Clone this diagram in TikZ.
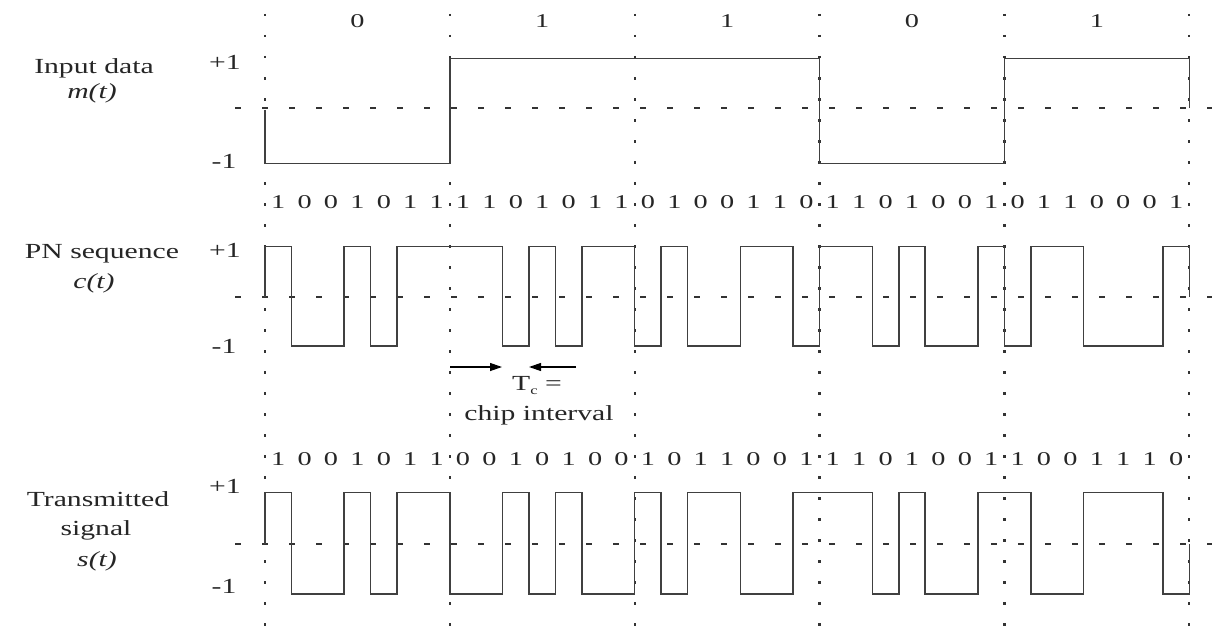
\documentclass[tikz,border=0pt]{standalone}
\usepackage{fontspec}
\setmainfont[FakeStretch=1.38]{Liberation Serif}
\newfontfamily\digitfont[FakeStretch=1.45]{Liberation Serif}
\usetikzlibrary{arrows.meta}
\begin{document}
\begin{tikzpicture}[x=1pt,y=-1pt,
  lbl/.style={text=black!85, font=\fontsize{21.5}{25}\selectfont, inner sep=0pt, anchor=base},
  chipdigit/.style={text=black!85, font=\digitfont\fontsize{19.5}{23}\selectfont, inner sep=0pt, anchor=base},
  sig/.style={draw=black!75, line width=1.5pt, line join=miter},
  gridline/.style={draw=black!80, line width=2.2pt, dash pattern=on 2.5pt off 18.5pt},
  zeroline/.style={draw=black!80, line width=1.4pt, dash pattern=on 6pt off 21pt},
  tcarrow/.style={draw=black, line width=1.2pt, -{Triangle[length=12pt,width=8pt]}}]
\useasboundingbox (0,0) rectangle (1212,626);
\fill[white] (0,0) rectangle (1212,626);
\def\xo{265}
\def\bw{184.86}
\def\cw{26.408}
% zero lines
\draw[zeroline] (235,108) -- (1212,108);
\draw[zeroline] (235,297) -- (1212,297);
\draw[zeroline] (235,544) -- (1212,544);
% bit boundaries
\foreach \k in {0,...,5}
  \draw[gridline] ({\xo+\k*\bw},14) -- ({\xo+\k*\bw},626);
% input data
\draw[sig] (\xo,110) \foreach \v [count=\i from 0, evaluate=\v as \yy using 163.3-105*\v] in {0,1,1,0,1}
  { -- ({\xo+\i*\bw},\yy) -- ({\xo+(\i+1)*\bw},\yy) } -- ({\xo+5*\bw},108);
% PN sequence
\draw[sig] (\xo,297) \foreach \v [count=\i from 0, evaluate=\v as \yy using 346-99.5*\v] in
  {1,0,0,1,0,1,1, 1,1,0,1,0,1,1, 0,1,0,0,1,1,0, 1,1,0,1,0,0,1, 0,1,1,0,0,0,1}
  { -- ({\xo+\i*\cw},\yy) -- ({\xo+(\i+1)*\cw},\yy) } -- ({\xo+35*\cw},297);
% transmitted
\draw[sig] (\xo,544) \foreach \v [count=\i from 0, evaluate=\v as \yy using 594-101.7*\v] in
  {1,0,0,1,0,1,1, 0,0,1,0,1,0,0, 1,0,1,1,0,0,1, 1,1,0,1,0,0,1, 1,0,0,1,1,1,0}
  { -- ({\xo+\i*\cw},\yy) -- ({\xo+(\i+1)*\cw},\yy) } -- ({\xo+35*\cw},544);
% bit labels
\foreach \v [count=\i from 0] in {0,1,1,0,1}
  \node[chipdigit] (bit\i) at ({\xo+(\i+0.5)*\bw},28) {\v};
% chip labels
\foreach \v [count=\i from 0] in {1,0,0,1,0,1,1, 1,1,0,1,0,1,1, 0,1,0,0,1,1,0, 1,1,0,1,0,0,1, 0,1,1,0,0,0,1}
  \node[chipdigit] (pn\i) at ({\xo+(\i+0.5)*\cw},208) {\v};
\foreach \v [count=\i from 0] in {1,0,0,1,0,1,1, 0,0,1,0,1,0,0, 1,0,1,1,0,0,1, 1,1,0,1,0,0,1, 1,0,0,1,1,1,0}
  \node[chipdigit] (tx\i) at ({\xo+(\i+0.5)*\cw},465) {\v};
% left labels
\node[lbl] (inlab) at (94,74) {Input data};
\node[lbl] (mlab) at (92,98) {\textit{m(t)}};
\node[lbl] (pnlab) at (102,258) {PN sequence};
\node[lbl] (clab) at (94,288) {\textit{c(t)}};
\node[lbl] (txlab) at (98,506) {Transmitted};
\node[lbl] (siglab) at (96,535) {signal};
\node[lbl] (slab) at (97,566) {\textit{s(t)}};
% level labels
\node[lbl] (p1) at (225,70) {+1};
\node[lbl] (m1) at (224,168) {-1};
\node[lbl] (p2) at (225,257) {+1};
\node[lbl] (m2) at (224,353) {-1};
\node[lbl] (p3) at (225,493) {+1};
\node[lbl] (m3) at (224,593) {-1};
% chip interval
\coordinate (a1s) at (450,367);
\coordinate (a1e) at (502,367);
\coordinate (a2s) at (576,367);
\coordinate (a2e) at (529,367);
\draw[tcarrow] (a1s) -- (a1e);
\draw[tcarrow] (a2s) -- (a2e);
\node[lbl] (tclab) at (537,390) {T\raisebox{-0.5ex}{\fontsize{12}{12}\selectfont c} =};
\node[lbl] (chiplab) at (539,420) {chip interval};
\end{tikzpicture}
\end{document}
